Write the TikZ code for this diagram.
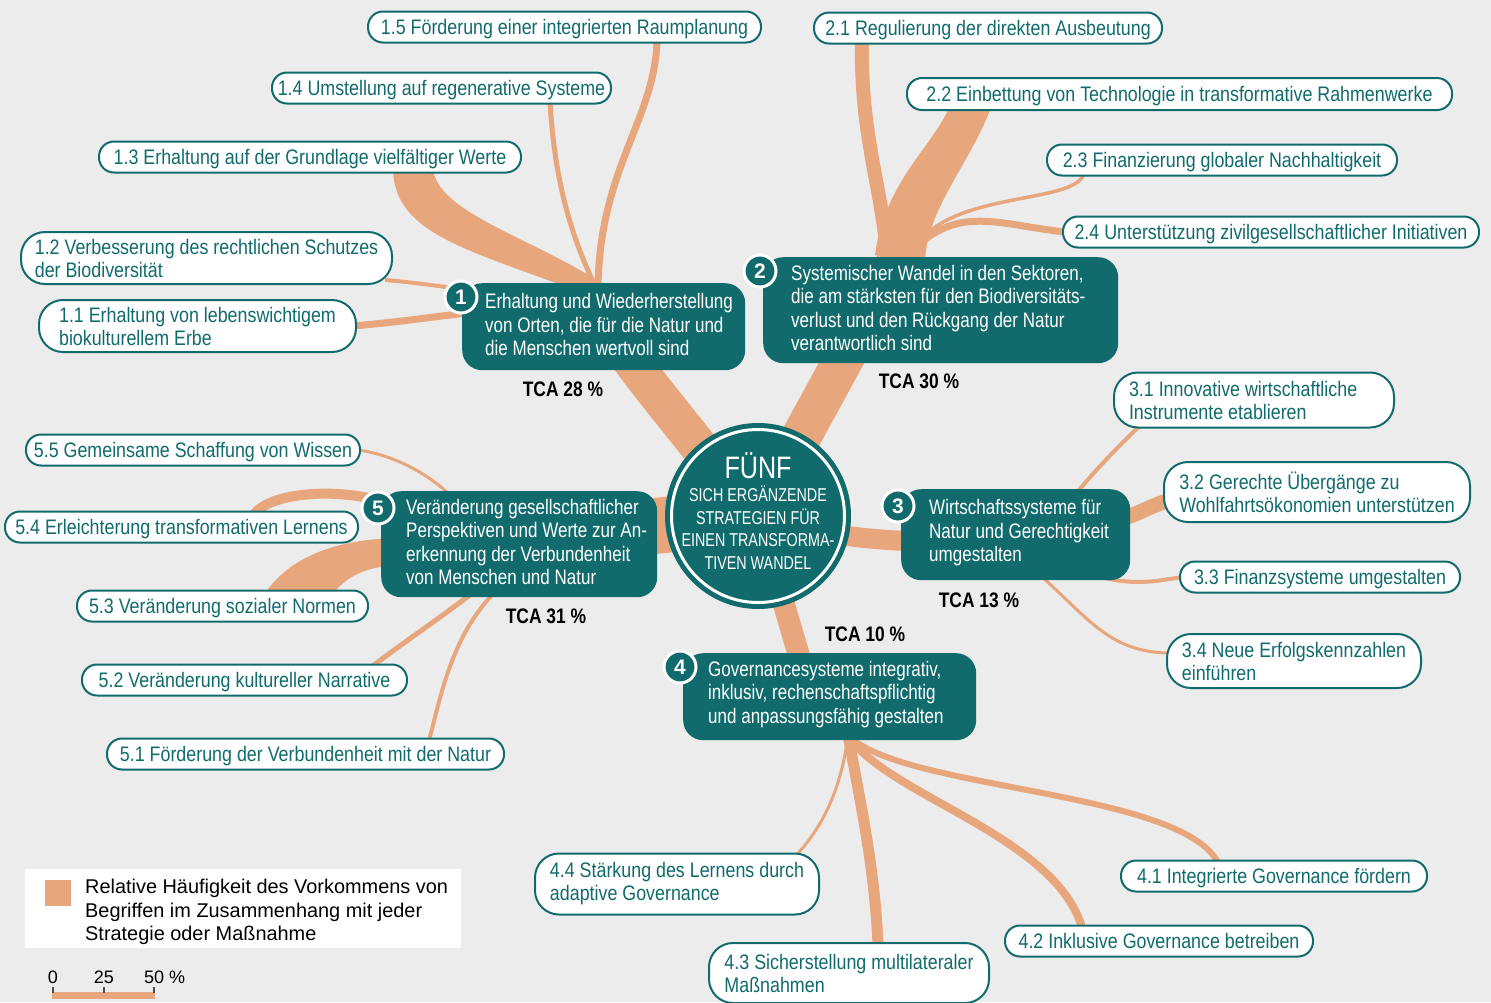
\documentclass[tikz,border=0pt]{standalone}
\usepackage{fontspec}
\setmainfont{Liberation Sans}
\newfontfamily\labf[FakeStretch=0.85]{Liberation Sans}
\newfontfamily\strf[FakeStretch=0.81]{Liberation Sans}
\newfontfamily\ctrf[FakeStretch=0.77]{Liberation Sans}
\newfontfamily\tcaf[FakeStretch=0.83]{Liberation Sans}
\definecolor{tealc}{RGB}{17,107,109}
\definecolor{orc}{RGB}{232,166,124}
\definecolor{bgc}{RGB}{236,236,236}
\pgfdeclarelayer{bg}
\pgfsetlayers{bg,main}
\begin{document}
\begin{tikzpicture}[x=1pt,y=-1pt,
  br/.style={draw=orc, line cap=butt},
  brfill/.style={fill=orc},
  pill/.style={draw=tealc, fill=white, line width=2pt, rounded corners=15pt, text=tealc,
    font=\labf\fontsize{21pt}{23pt}\selectfont, inner xsep=5pt, inner ysep=0pt,
    minimum height=31pt, text height=15pt, text depth=1pt, anchor=west},
  pilltwo/.style={draw=tealc, fill=white, line width=2pt, rounded corners=24pt, text=tealc,
    font=\labf\fontsize{21pt}{23pt}\selectfont, inner xsep=8pt, inner ysep=0pt,
    minimum height=54pt, align=left, anchor=west},
  strat/.style={fill=tealc, rounded corners=20pt, inner sep=0pt, anchor=north west},
  strattext/.style={text=white, font=\strf\fontsize{21pt}{23.5pt}\selectfont, align=left,
    inner sep=0pt, anchor=west},
  badge/.style={circle, fill=tealc, draw=white, line width=3pt, minimum size=32pt,
    inner sep=0pt, text=white, font=\bfseries\fontsize{21pt}{21pt}\selectfont},
  tca/.style={font=\tcaf\bfseries\fontsize{21pt}{21pt}\selectfont, text=black, inner sep=0pt,
    text height=15pt, text depth=0pt},
  plain/.style={inner sep=0pt, text=black}
]
\useasboundingbox (0,0) rectangle (1491,1002);

% ---------- labels ----------
\node[pill, minimum width=393pt] (l15) at (367,27) {1.5 Förderung einer integrierten Raumplanung};
\node[pill, minimum width=339pt] (l14) at (271,88) {1.4 Umstellung auf regenerative Systeme};
\node[pill, minimum width=422pt] (l13) at (98,157) {1.3 Erhaltung auf der Grundlage vielfältiger Werte};
\node[pilltwo, minimum height=52pt, minimum width=371pt] (l12) at (20,258) {1.2 Verbesserung des rechtlichen Schutzes\\der Biodiversität};
\node[pilltwo, minimum height=52pt, minimum width=317pt] (l11) at (38,326) {1.1 Erhaltung von lebenswichtigem\\biokulturellem Erbe};
\node[pill, minimum width=348pt] (l21) at (813,28) {2.1 Regulierung der direkten Ausbeutung};
\node[pill, minimum width=545pt, minimum height=32pt] (l22) at (906,94) {2.2 Einbettung von Technologie in transformative Rahmenwerke};
\node[pill, minimum width=350pt] (l23) at (1046,160) {2.3 Finanzierung globaler Nachhaltigkeit};
\node[pill, minimum width=416pt] (l24) at (1062,232) {2.4 Unterstützung zivilgesellschaftlicher Initiativen};
\node[pilltwo, minimum height=55pt, inner xsep=15pt, text width=250pt, align=flush left] (l31) at (1113,400) {3.1 Innovative wirtschaftliche\\Instrumente etablieren};
\node[pilltwo, minimum height=60pt, minimum width=306pt] (l32) at (1163,492) {3.2 Gerechte Übergänge zu\\Wohlfahrtsökonomien unterstützen};
\node[pill, minimum width=280pt] (l33) at (1179,577) {3.3 Finanzsysteme umgestalten};
\node[pilltwo, minimum height=54pt, minimum width=254pt] (l34) at (1166,661) {3.4 Neue Erfolgskennzahlen\\einführen};
\node[pill, minimum width=306pt] (l41) at (1120,876) {4.1 Integrierte Governance fördern};
\node[pill, minimum width=308pt] (l42) at (1004,941) {4.2 Inklusive Governance betreiben};
\node[pilltwo, minimum height=60pt, minimum width=280pt] (l43) at (708,973) {4.3 Sicherstellung multilateraler\\Maßnahmen};
\node[pilltwo, minimum height=61pt, minimum width=284pt] (l44) at (534,884) {4.4 Stärkung des Lernens durch\\adaptive Governance};
\node[pill, minimum width=397pt] (l51) at (106,754) {5.1 Förderung der Verbundenheit mit der Natur};
\node[pill, minimum width=325pt] (l52) at (81,680) {5.2 Veränderung kultureller Narrative};
\node[pill, minimum width=291pt] (l53) at (76,606) {5.3 Veränderung sozialer Normen};
\node[pill, minimum width=353pt] (l54) at (4,527) {5.4 Erleichterung transformativen Lernens};
\node[pill, minimum width=334pt] (l55) at (25,450) {5.5 Gemeinsame Schaffung von Wissen};

% ---------- strategy boxes ----------
\node[strat, minimum height=87pt, minimum width=283pt] (s1) at (462,283) {};
\node[strat, minimum height=106pt, minimum width=355pt] (s2) at (763,257) {};
\node[strat, minimum height=91pt, minimum width=229pt] (s3) at (901,489) {};
\node[strat, minimum height=87pt, minimum width=293pt] (s4) at (683,653) {};
\node[strat, minimum height=106pt, minimum width=276pt] (s5) at (381,491) {};
\node[strattext] (s1t) at (485,324.5) {Erhaltung und Wiederherstellung\\von Orten, die für die Natur und\\die Menschen wertvoll sind};
\node[strattext] (s2t) at (791,308) {Systemischer Wandel in den Sektoren,\\die am stärksten für den Biodiversitäts-\\verlust und den Rückgang der Natur\\verantwortlich sind};
\node[strattext] (s3t) at (929,533) {Wirtschaftssysteme für\\Natur und Gerechtigkeit\\umgestalten};
\node[strattext] (s4t) at (708,694.5) {Governancesysteme integrativ,\\inklusiv, rechenschaftspflichtig\\und anpassungsfähig gestalten};
\node[strattext] (s5t) at (406,542) {Veränderung gesellschaftlicher\\Perspektiven und Werte zur An-\\erkennung der Verbundenheit\\von Menschen und Natur};

\node[badge] (b1) at (461,297) {1};
\node[badge] (b2) at (760,271) {2};
\node[badge] (b3) at (898,506) {3};
\node[badge] (b4) at (680,667) {4};
\node[badge] (b5) at (378,508) {5};

\node[tca] (t1) at (563,389) {TCA 28 \%};
\node[tca] (t2) at (919,381) {TCA 30 \%};
\node[tca] (t3) at (979,600) {TCA 13 \%};
\node[tca] (t4) at (865,634) {TCA 10 \%};
\node[tca] (t5) at (546,616) {TCA 31 \%};

% ---------- centre ----------
\node[circle, fill=tealc, minimum size=186pt, inner sep=0pt] (c) at (758,516) {};
\node[circle, draw=white, line width=3pt, minimum size=173pt, inner sep=0pt] (cring) at (c.center) {};
\node[inner sep=0pt, text=white, font=\strf\fontsize{31pt}{31pt}\selectfont, text height=22pt, text depth=0pt] (cta) at (758,467) {FÜNF};
\node[inner sep=0pt, text=white, align=center, font=\ctrf\fontsize{18.6pt}{22.5pt}\selectfont] (ctb) at (758,527.5) {SICH ERGÄNZENDE\\STRATEGIEN FÜR\\EINEN TRANSFORMA-\\TIVEN WANDEL};

% ---------- legend ----------
\node[fill=white, minimum width=436pt, minimum height=79pt, inner sep=0pt, anchor=north west] (lg) at (25,869) {};
\node[fill=orc, minimum size=26pt, inner sep=0pt, anchor=north west] (lgsq) at (45,880) {};
\node[plain, anchor=north west, align=left, font=\fontsize{19.9pt}{23.5pt}\selectfont] (lgt) at (85,879) {Relative Häufigkeit des Vorkommens von\\Begriffen im Zusammenhang mit jeder\\Strategie oder Maßnahme};
\node[plain, anchor=base, font=\fontsize{18pt}{18pt}\selectfont] (sc0) at (53,983) {0};
\node[plain, anchor=base, font=\fontsize{18pt}{18pt}\selectfont] (sc25) at (104,983) {25};
\node[plain, anchor=base west, font=\fontsize{18pt}{18pt}\selectfont] (sc50) at (144,983) {50 \%};
\fill[orc] (52,992) rectangle (155,999);
\foreach \tx in {53,104,154}{\draw[black!70, line width=1.2pt] (\tx,987) -- (\tx,993);}

% ---------- hubs ----------
\coordinate (h1) at (598,292);
\coordinate (h2) at (895,265);
\coordinate (h2b) at (915,248);
\coordinate (h3) at (960,542);
\coordinate (h4) at (812,700);
\coordinate (h4b) at (848,735);
\coordinate (h5) at (560,535);

% ---------- branches (background) ----------
\begin{pgfonlayer}{bg}
\fill[bgc] (0,0) rectangle (1491,1002);
% trunks
\draw[br, line width=38pt] (c.center) -- (700,448) .. controls (645,378) and (605,335) .. (h1);
\draw[br, line width=40pt] (c.center) -- (h2);
\draw[br, line width=20pt] (c.center) .. controls (820,535) and (870,542) .. (h3);
\draw[br, line width=22pt] (c.center) -- (h4);
\draw[br, line width=56pt] (c.center) -- (h5);
% strategy 1
\fill[brfill] (393,170) .. controls (395,235) and (470,250) .. (588,295) -- (612,290) .. controls (540,240) and (440,215) .. (433,170) -- cycle;
\draw[br, line width=5pt] ([xshift=279pt,yshift=3pt]l14.south west) .. controls (555,190) and (575,245) .. (h1);
\draw[br, line width=7pt] ([xshift=290pt,yshift=3pt]l15.south west) .. controls (655,120) and (598,170) .. (h1);
\draw[br, line width=4pt] ([xshift=-8pt,yshift=5pt]l12.south east) .. controls (410,282) and (430,285) .. (470,290);
\draw[br, line width=7pt] ([xshift=-4pt]l11.east) .. controls (400,322) and (430,317) .. (468,313);
% strategy 2
\draw[br, line width=14pt] ([xshift=49pt,yshift=3pt]l21.south west) .. controls (860,140) and (885,195) .. (888,270);
\fill[brfill] (950,105) .. controls (935,145) and (885,180) .. (875,255) -- (925,265) .. controls (925,210) and (970,165) .. (992,105) -- cycle;
\draw[br, line width=3.5pt] ([xshift=38pt,yshift=3pt]l23.south west) .. controls (1075,205) and (950,190) .. (h2b);
\draw[br, line width=7pt] ([xshift=3pt]l24.west) .. controls (1000,225) and (960,205) .. (h2b);
% strategy 3
\draw[br, line width=4pt] (1075,495) .. controls (1095,470) and (1120,445) .. ([xshift=27pt,yshift=3pt]l31.south west);
\draw[br, line width=15pt] (1110,522) .. controls (1135,517) and (1150,505) .. ([xshift=8pt,yshift=-8pt]l32.west);
\draw[br, line width=4pt] (1105,578) .. controls (1140,586) and (1160,580) .. ([xshift=4pt]l33.west);
\draw[br, line width=3pt] (1040,575) .. controls (1090,620) and (1110,652) .. ([xshift=3pt,yshift=8pt]l34.west);
% strategy 4
\draw[br, line width=11pt] (h4b) .. controls (860,800) and (875,870) .. ([xshift=170pt,yshift=-3pt]l43.north west);
\draw[br, line width=8pt] (h4b) .. controls (885,795) and (1055,835) .. ([xshift=78pt,yshift=-3pt]l42.north west);
\draw[br, line width=6pt] (h4b) .. controls (900,790) and (1180,790) .. ([xshift=98pt,yshift=-3pt]l41.north west);
\draw[br, line width=3pt] (h4b) .. controls (840,800) and (815,835) .. ([xshift=262pt,yshift=-3pt]l44.north west);
% strategy 5
\draw[br, line width=3pt] ([xshift=-3pt]l55.east) .. controls (395,455) and (430,475) .. (452,497);
\draw[br, line width=10pt] ([xshift=250pt,yshift=-4pt]l54.north west) .. controls (270,492) and (340,486) .. (395,505);
\fill[brfill] (395,538) .. controls (330,540) and (285,560) .. (262,598) -- (330,598) .. controls (345,575) and (370,566) .. (395,566) -- cycle;
\draw[br, line width=5pt] (470,595) .. controls (430,625) and (400,645) .. ([xshift=291pt,yshift=-3pt]l52.north west);
\draw[br, line width=4pt] (492,595) .. controls (450,640) and (440,700) .. ([xshift=323pt,yshift=-3pt]l51.north west);
\end{pgfonlayer}
\end{tikzpicture}
\end{document}
